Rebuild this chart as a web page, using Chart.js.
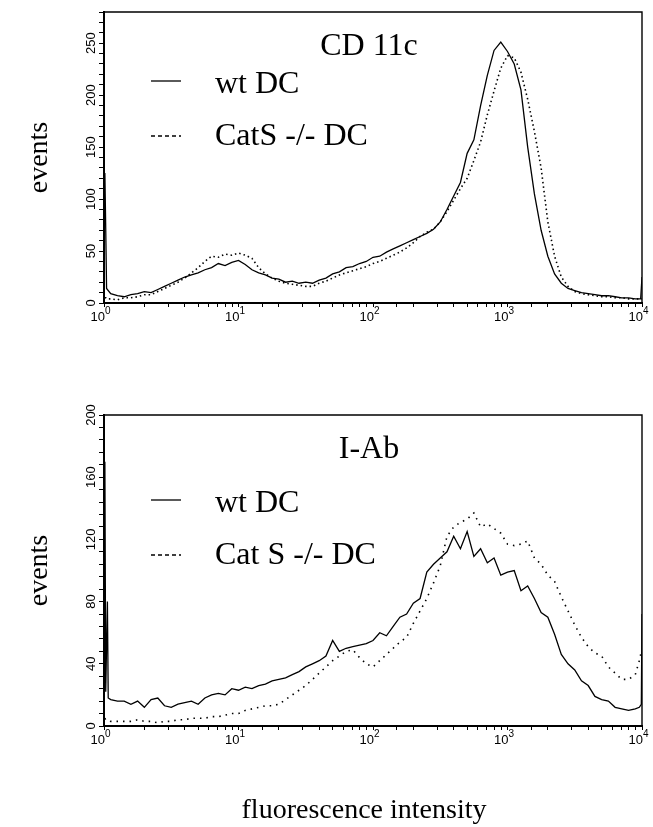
<!DOCTYPE html>
<html>
<head>
<meta charset="utf-8">
<script src="https://cdn.jsdelivr.net/npm/chart.js@4.4.0/dist/chart.umd.min.js"></script>
<style>
    body { margin: 0; background: #fff; }
    .wrap { position: relative; width: 653px; height: 827px; }
    canvas { position: absolute; left: 0; }
</style>
</head>
<body>
<div class="wrap">
    <canvas id="cd11cChart" width="653" height="360" style="top:0px"></canvas>
    <canvas id="iabChart" width="653" height="467" style="top:360px"></canvas>
</div>
<script>
// data
const xTicks = [1, 10, 100, 1000, 10000];
const cd11cTicks = [0, 50, 100, 150, 200, 250];
const iabTicks = [0, 40, 80, 120, 160, 200];

const cd11cX = [1.015, 1.03, 1.045,
    1.122, 1.259, 1.413, 1.585, 1.778, 1.995, 2.239, 2.512, 2.818, 3.162, 3.548, 3.981, 4.467, 5.012, 5.623, 6.310, 7.079, 7.943, 8.913, 10,
    11.22, 12.59, 14.13, 15.85, 17.78, 19.95, 22.39, 25.12, 28.18, 31.62, 35.48, 39.81, 44.67, 50.12, 56.23, 63.10, 70.79, 79.43, 89.13, 100,
    112.2, 125.9, 141.3, 158.5, 177.8, 199.5, 223.9, 251.2, 281.8, 316.2, 354.8, 398.1, 446.7, 501.2, 562.3, 631.0, 707.9, 794.3, 891.3, 1000,
    1122, 1259, 1413, 1585, 1778, 1995, 2239, 2512, 2818, 3162, 3548, 3981, 4467, 5012, 5623, 6310, 7079, 7943, 8913,
    9772, 10000];
const cd11cWt = [125, 72, 14,
    9, 7, 6, 8, 9, 11, 10, 13, 16, 19, 22, 25, 27, 29, 32, 34, 38, 36, 39, 41,
    37, 32, 29, 27, 24, 23, 20, 21, 19, 20, 19, 22, 24, 28, 30, 34, 35, 38, 40, 44,
    45, 49, 52, 55, 58, 61, 64, 67, 71, 78, 90, 103, 116, 144, 157, 190, 219, 243, 251, 242,
    230, 205, 150, 105, 70, 45, 28, 19, 14, 12, 10, 9, 8, 7, 7, 6, 5, 5, 4,
    4, 25];
const cd11cCatS = [5, 5, 4,
    4, 3, 5, 5, 6, 8, 8, 11, 14, 17, 20, 24, 29, 34, 40, 45, 44, 47, 46, 48,
    46, 43, 34, 28, 24, 21, 19, 18, 17, 16, 16, 19, 21, 24, 27, 29, 31, 33, 35, 38,
    40, 43, 46, 49, 53, 58, 64, 68, 71, 78, 88, 99, 110, 120, 137, 155, 181, 204, 226, 238,
    236, 222, 196, 165, 130, 78, 45, 25, 16, 11, 9, 8, 7, 6, 6, 5, 5, 4, 4,
    4, 4];

const iabX = [1.015, 1.03, 1.06, 1.075,
    1.122, 1.259, 1.413, 1.585, 1.778, 1.995, 2.239, 2.512, 2.818, 3.162, 3.548, 3.981, 4.467, 5.012, 5.623, 6.310, 7.079, 7.943, 8.913, 10,
    11.22, 12.59, 14.13, 15.85, 17.78, 19.95, 22.39, 25.12, 28.18, 31.62, 35.48, 39.81, 44.67, 50.12, 56.23, 63.10, 70.79, 79.43, 89.13, 100,
    112.2, 125.9, 141.3, 158.5, 177.8, 199.5, 223.9, 251.2, 281.8, 316.2, 354.8, 398.1, 446.7, 501.2, 562.3, 631.0, 707.9, 794.3, 891.3, 1000,
    1122, 1259, 1413, 1585, 1778, 1995, 2239, 2512, 2818, 3162, 3548, 3981, 4467, 5012, 5623, 6310, 7079, 7943, 8913,
    9550, 9886, 10000];
const iabWt = [170, 22, 80, 18,
    17, 16, 16, 14, 16, 12, 17, 18, 13, 12, 14, 15, 16, 14, 18, 20, 21, 20, 24, 23,
    25, 24, 26, 27, 29, 30, 31, 33, 35, 38, 40, 42, 45, 55, 48, 50, 51, 52, 53, 55,
    60, 58, 64, 70, 72, 79, 82, 99, 104, 108, 112, 122, 114, 125, 109, 114, 105, 108, 97, 99,
    100, 87, 90, 82, 73, 70, 59, 46, 40, 36, 29, 26, 19, 17, 16, 12, 11, 10, 11,
    12, 14, 72];
const iabCatS = [5, 4, 4, 4,
    3, 3, 3, 3, 4, 3, 3, 2, 3, 3, 4, 4, 5, 5, 5, 6, 6, 7, 8, 8,
    10, 11, 12, 13, 13, 14, 17, 20, 23, 26, 30, 34, 38, 42, 45, 48, 49, 44, 40, 38,
    42, 46, 50, 54, 57, 66, 74, 82, 92, 103, 122, 128, 131, 133, 137, 128, 130, 127, 124, 117,
    116, 117, 119, 108, 104, 97, 93, 83, 74, 65, 57, 51, 47, 45, 38, 34, 30, 30, 33,
    42, 48, 48];

const serif = '"Liberation Serif", "Times New Roman", serif';
const narrow = '"Liberation Sans Narrow", "Liberation Sans", Arial, sans-serif';
const sup = { 0: '0', 1: '1', 2: '2', 3: '3', 4: '4' };

// text, frame and legend drawn on top of the chart
function makeDecor(cfg) {
    return {
        id: 'decor',
        afterDraw(chart) {
            const c = chart.ctx;
            const a = chart.chartArea;
            const xs = chart.scales.x;
            const ys = chart.scales.y;
            c.save();
            c.strokeStyle = '#000';
            c.fillStyle = '#000';

            // top and right frame
            c.lineWidth = 1.4;
            c.beginPath();
            c.moveTo(a.left, a.top);
            c.lineTo(a.right, a.top);
            c.lineTo(a.right, a.bottom);
            c.stroke();

            // y tick labels, rotated
            c.font = '13px ' + narrow;
            c.textAlign = 'center';
            c.textBaseline = 'middle';
            for (const v of cfg.yLabels) {
                const py = ys.getPixelForValue(v);
                c.save();
                c.translate(91, py);
                c.rotate(-Math.PI / 2);
                c.fillText(String(v), 0, 0);
                c.restore();
            }

            // x tick labels 10^n
            c.textBaseline = 'alphabetic';
            for (const v of xTicks) {
                const px = xs.getPixelForValue(v);
                c.font = '13px ' + narrow;
                c.textAlign = 'right';
                c.fillText('10', px + 1, a.bottom + 18);
                c.font = '10px ' + narrow;
                c.textAlign = 'left';
                c.fillText(sup[Math.round(Math.log10(v))], px + 1, a.bottom + 11);
            }

            // panel title
            c.font = '32px ' + serif;
            c.textAlign = 'center';
            c.fillText(cfg.title, 369, a.top + cfg.titleOffset);

            // legend
            const lines = [cfg.legendY, cfg.legendY + 55];
            c.lineWidth = 1.3;
            c.beginPath();
            c.moveTo(151, lines[0]);
            c.lineTo(181, lines[0]);
            c.stroke();
            c.setLineDash([4, 3]);
            c.lineWidth = 1.4;
            c.beginPath();
            c.moveTo(151, lines[1]);
            c.lineTo(181, lines[1]);
            c.stroke();
            c.setLineDash([]);
            c.textAlign = 'left';
            c.fillText('wt DC', 215, lines[0] + 12);
            c.fillText(cfg.catLabel, 215, lines[1] + 9);

            // axis titles
            c.font = '28px ' + serif;
            c.textAlign = 'center';
            c.textBaseline = 'middle';
            c.save();
            c.translate(40, (a.top + a.bottom) / 2);
            c.rotate(-Math.PI / 2);
            c.fillText('events', 0, 0);
            c.restore();
            if (cfg.xTitle) {
                c.textBaseline = 'alphabetic';
                c.fillText(cfg.xTitle, 364, cfg.xTitleY);
            }
            c.restore();
        }
    };
}

function makeChart(id, xs, wt, cat, cfg) {
    const canvas = document.getElementById(id);
    return new Chart(canvas, {
        type: 'line',
        data: {
            datasets: [{
                label: 'wt DC',
                data: xs.map((x, i) => ({ x: x, y: wt[i] })),
                borderColor: '#000',
                borderWidth: 1.3,
                pointRadius: 0,
                tension: 0
            }, {
                label: cfg.catLabel,
                data: xs.map((x, i) => ({ x: x, y: cat[i] })),
                borderColor: '#000',
                borderWidth: 1.6,
                borderDash: cfg.dash,
                pointRadius: 0,
                tension: 0
            }]
        },
        options: {
            responsive: false,
            animation: false,
            devicePixelRatio: 1,
            layout: { padding: { left: 0, right: 11, top: cfg.plotTop, bottom: 0 } },
            plugins: { legend: { display: false }, tooltip: { enabled: false } },
            scales: {
                x: {
                    type: 'logarithmic',
                    min: 1,
                    max: 10000,
                    afterFit: s => { s.height = canvas.height - cfg.plotBottom; },
                    ticks: { display: false, autoSkip: false },
                    grid: { drawOnChartArea: false, drawTicks: true, tickLength: 4, color: '#000', lineWidth: 1 },
                    border: { display: true, color: '#000', width: 2 }
                },
                y: {
                    min: 0,
                    max: cfg.yMax,
                    afterFit: s => { s.width = 104; },
                    ticks: { display: false, stepSize: cfg.yStep },
                    grid: { drawOnChartArea: false, drawTicks: true, tickLength: 5, color: '#000', lineWidth: 1 },
                    border: { display: true, color: '#000', width: 2 }
                }
            }
        },
        plugins: [makeDecor(cfg)]
    });
}

makeChart('cd11cChart', cd11cX, cd11cWt, cd11cCatS, {
    plotTop: 12, plotBottom: 303, yMax: 280, yStep: 10, yLabels: cd11cTicks,
    title: 'CD 11c', titleOffset: 43, legendY: 81, catLabel: 'CatS -/- DC', dash: [1.5, 3]
});

makeChart('iabChart', iabX, iabWt, iabCatS, {
    plotTop: 55, plotBottom: 366, yMax: 200, yStep: 8, yLabels: iabTicks,
    title: 'I-Ab', titleOffset: 43, legendY: 140, catLabel: 'Cat S -/- DC', dash: [1.5, 5],
    xTitle: 'fluorescence intensity', xTitleY: 458
});
</script>
</body>
</html>
